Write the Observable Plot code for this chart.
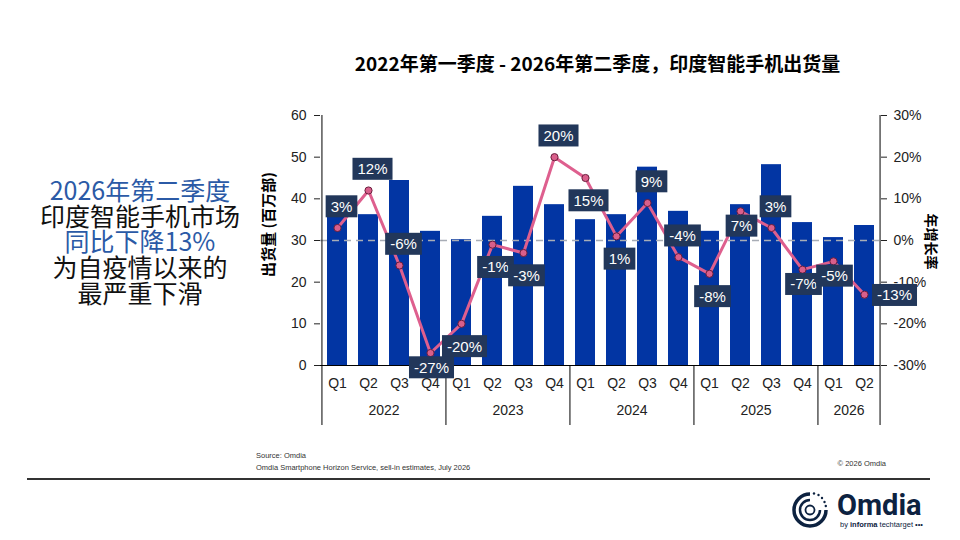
<!DOCTYPE html>
<html>
<head>
<meta charset="utf-8">
<script src="https://cdn.jsdelivr.net/npm/d3@7"></script>
<script src="https://cdn.jsdelivr.net/npm/@observablehq/plot@0.6"></script>
<style>
  body { margin: 0; background: #fff; }
  #page { position: relative; width: 960px; height: 540px; overflow: hidden; font-family: "Liberation Sans", Arial, sans-serif; }
  #chart { position: absolute; left: 0; top: 0; }
  #title { position: absolute; left: 300px; width: 595px; top: 52px; text-align: center; font-family: "Noto Sans CJK SC", sans-serif; font-weight: 700; font-size: 19px; line-height: 22px; color: #000; }
  #headline { position: absolute; left: 20px; width: 240px; top: 177px; text-align: center; font-family: "Noto Sans CJK SC", sans-serif; font-size: 25px; line-height: 25.7px; color: #111; }
  #headline div { height: 25.7px; white-space: nowrap; }
  #headline .blue { color: #2b5aa6; }
  #src { position: absolute; left: 256px; top: 450px; font-size: 7.5px; line-height: 12px; color: #333; }
  #copy { position: absolute; right: 74px; top: 459px; font-size: 7.5px; color: #333; }
  #rule { position: absolute; left: 27px; width: 903px; top: 478px; height: 1.5px; background: #333; }
  #logo { position: absolute; left: 790px; top: 488px; }
</style>
</head>
<body>
<div id="page">
  <div id="title">2022年第一季度 - 2026年第二季度，印度智能手机出货量</div>
  <div id="headline"><div class="blue">2026年第二季度</div><div>印度智能手机市场</div><div class="blue">同比下降13%</div><div>为自疫情以来的</div><div>最严重下滑</div></div>
  <div id="chart"></div>
  <div id="src">Source: Omdia<br>Omdia Smartphone Horizon Service, sell-in estimates, July 2026</div>
  <div id="copy">© 2026 Omdia</div>
  <div id="rule"></div>
  <div id="logo">
    <svg width="145" height="44" viewBox="0 0 145 44">
      <g fill="none" stroke="#0d2240">
        <path d="M 20 6 A 16 16 0 1 0 36 22" stroke-width="3.5"/>
        <path d="M 20 12 A 10 10 0 1 0 30 22" stroke-width="2.5"/>
        <circle cx="20" cy="22" r="4.5" stroke-width="1.8"/>
      </g>
      <g fill="#0d2240">
        <circle cx="24" cy="5.5" r="1.2"/><circle cx="28.5" cy="7" r="1.2"/><circle cx="32" cy="10" r="1.2"/><circle cx="34.5" cy="14" r="1.2"/><circle cx="35.8" cy="18" r="1.2"/>
      </g>
      <text x="47" y="27" font-family="Roboto, 'Liberation Sans', sans-serif" font-weight="700" font-size="29" fill="#0d2240">Omdia</text>
      <text x="50" y="39" font-family="'Liberation Sans', sans-serif" font-size="7.5" fill="#0d2240">by <tspan font-weight="700">informa</tspan> techtarget •••</text>
    </svg>
  </div>
</div>
<script>
// ---- data ----
const quarters = ["Q1","Q2","Q3","Q4","Q1","Q2","Q3","Q4","Q1","Q2","Q3","Q4","Q1","Q2","Q3","Q4","Q1","Q2"];
const years = [2022,2022,2022,2022,2023,2023,2023,2023,2024,2024,2024,2024,2025,2025,2025,2025,2026,2026];
const shipments = [37.8,36.2,44.4,32.2,30.2,35.8,43.0,38.6,35.0,36.2,47.6,37.0,32.2,38.6,48.2,34.3,30.7,33.6]; // million units
const yoyGrowth = [3,12,-6,-27,-20,-1,-3,20,15,1,9,-4,-8,7,3,-7,-5,-13]; // %
const labelPlacement = ["above","above","above","near","below","below","below","above","below","below","above","above","below","near","above","near","near","right"];
const leftTicks = [0,10,20,30,40,50,60];
const rightTicks = [-30,-20,-10,0,10,20,30];
const yearNames = [2022,2023,2024,2025,2026];

// right axis (-30%..30%) shares the left scale (0..60)
const yoyOffset = 30;

const rows = quarters.map((q, i) => ({
  key: years[i] + " " + q, quarter: q, year: years[i],
  ship: shipments[i], yoy: yoyGrowth[i], yoyY: yoyGrowth[i] + yoyOffset, place: labelPlacement[i]
}));
const groups = yearNames.map(y => {
  const ks = rows.filter(r => r.year === y);
  return { year: y, first: ks[0].key, mid: ks[Math.floor((ks.length - 1) / 2)].key, last: ks[ks.length - 1].key };
});

const W = 960, H = 440, mL = 320, mR = 80, mT = 115, mB = 75;
const step = (W - mL - mR) / rows.length;
const belowAxis = -14.4; // y-units below zero reached by the year separators
const LABEL_FILL = "#fffffe";

const placement = {
  above: { dx: 4, dy: -21 },
  below: { dx: 3, dy: 23 },
  near:  { dx: 1, dy: 15 },
  right: { dx: 30, dy: 1 }
};

const labelMarks = Object.entries(placement).map(([k, o]) =>
  Plot.text(rows.filter(r => r.place === k), {
    x: "key", y: "yoyY", text: d => d.yoy + "%", dx: o.dx, dy: o.dy,
    fill: LABEL_FILL, fontSize: 15
  })
);

const chart = Plot.plot({
  width: W, height: H,
  marginLeft: mL, marginRight: mR, marginTop: mT, marginBottom: mB,
  style: { fontFamily: '"Liberation Sans", Arial, sans-serif', fontSize: "14px", color: "#222", background: "transparent", overflow: "visible" },
  x: { domain: rows.map(d => d.key), paddingInner: 0.36, paddingOuter: 0.18 },
  y: { domain: [0, 60] },
  marks: [
    Plot.barY(rows, { x: "key", y: "ship", fill: "#0235a3" }),
    Plot.ruleY([yoyOffset], { stroke: "#a8adb6", strokeWidth: 1.6, strokeDasharray: "7,5" }),
    Plot.ruleY([0], { stroke: "#000", strokeWidth: 1 }),
    // year separators
    Plot.ruleX(groups, { x: "first", dx: -step / 2, y1: 0, y2: belowAxis, stroke: "#000" }),
    Plot.ruleX(groups.slice(-1), { x: "last", dx: step / 2, y1: 0, y2: belowAxis, stroke: "#000" }),
    // axis lines
    Plot.ruleX(rows.slice(0, 1), { x: "key", dx: -step / 2, y1: 0, y2: 60, stroke: "#000" }),
    Plot.ruleX(rows.slice(-1), { x: "key", dx: step / 2, y1: 0, y2: 60, stroke: "#000" }),
    Plot.axisY({ anchor: "left", ticks: leftTicks, tickSize: 6, tickPadding: 8, label: null, fontSize: 14 }),
    Plot.axisY({ anchor: "right", ticks: rightTicks.map(v => v + yoyOffset), tickFormat: d => (d - yoyOffset) + "%", tickSize: 6, tickPadding: 7, label: null, fontSize: 14 }),
    Plot.axisX({ tickFormat: d => d.split(" ")[1], tickSize: 0, tickPadding: 13, label: null, fontSize: 14 }),
    Plot.text(groups, { x: "mid", dx: step / 2, frameAnchor: "bottom", dy: 49, text: d => String(d.year), fontSize: 14, fill: "#222" }),
    // axis titles
    Plot.text([0], { frameAnchor: "left", textAnchor: "middle", text: () => "出货量 (百万部)", rotate: -90, dx: -51, dy: -16, fontWeight: "bold", fontSize: 15, fontFamily: '"Noto Sans CJK SC", sans-serif', fill: "#000" }),
    Plot.text([0], { frameAnchor: "right", textAnchor: "middle", text: () => "年增长率", rotate: 90, dx: 50, dy: 1, fontWeight: "bold", fontSize: 14, fontFamily: '"Noto Sans CJK SC", sans-serif', fill: "#000" }),
    // YoY line
    Plot.line(rows, { x: "key", y: "yoyY", stroke: "#de5f8e", strokeWidth: 3 }),
    Plot.dot(rows, { x: "key", y: "yoyY", r: 3.6, fill: "#d95f8b", stroke: "#6a1d3c", strokeWidth: 1 }),
    ...labelMarks
  ]
});

document.getElementById("chart").append(chart);

// dark boxes behind the YoY labels, sized from each rendered label
const labelTexts = [];
chart.querySelectorAll("g").forEach(g => {
  if ((g.getAttribute("fill") || "").toLowerCase() === LABEL_FILL) {
    g.querySelectorAll("text").forEach(t => labelTexts.push(t));
  }
});
chart.querySelectorAll("text").forEach(t => {
  if ((t.getAttribute("fill") || "").toLowerCase() === LABEL_FILL && !labelTexts.includes(t)) labelTexts.push(t);
});
labelTexts.forEach(node => {
  const b = node.getBBox();
  const r = document.createElementNS("http://www.w3.org/2000/svg", "rect");
  r.setAttribute("x", b.x - 5);
  r.setAttribute("y", b.y - 2.5);
  r.setAttribute("width", b.width + 10);
  r.setAttribute("height", b.height + 5);
  r.setAttribute("fill", "#22375a");
  r.setAttribute("stroke", "none");
  const t = node.getAttribute("transform");
  if (t) r.setAttribute("transform", t);
  node.parentNode.insertBefore(r, node);
});
</script>
</body>
</html>
